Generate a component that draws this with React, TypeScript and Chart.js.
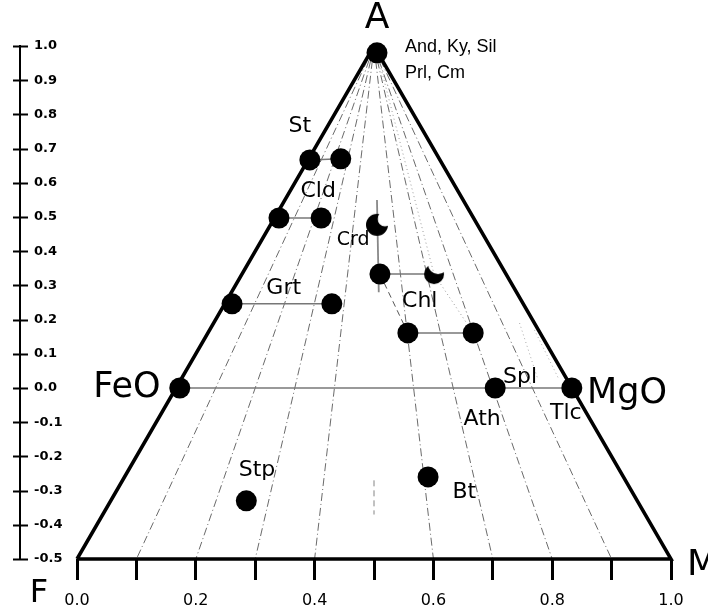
import React, { useEffect, useRef } from 'react';
import { Chart, registerables } from 'chart.js';

Chart.register(...registerables);

// ---- phase points (A-F-M projection coordinates) ----
const phaseIds = ['A', 'St1', 'St2', 'Cld1', 'Cld2', 'Grt1', 'Grt2', 'Chl1', 'Chl2', 'Chl3', 'FeO', 'Ath', 'MgO', 'Stp', 'Bt'];
const phaseX = [0.505, 0.392, 0.444, 0.34, 0.411, 0.261, 0.429, 0.51, 0.557, 0.667, 0.173, 0.704, 0.833, 0.285, 0.591];
const phaseY = [0.98, 0.667, 0.67, 0.497, 0.497, 0.246, 0.246, 0.333, 0.161, 0.161, 0.0, 0.0, 0.0, -0.33, -0.26];

// crescent-shaped phases
const crescentIds = ['Crd', 'Chl4'];
const crescentX = [0.505, 0.601];
const crescentY = [0.477, 0.333];

// tie lines between phases
const solidTies = [['St1', 'St2'], ['Cld1', 'Cld2'], ['Grt1', 'Grt2'], ['Chl1', 'Chl4'], ['Chl2', 'Chl3'], ['FeO', 'MgO']];
const dashedTies = [['Chl1', 'Chl2']];
const dottedTies = [['Chl4', 'Chl3'], ['A', 'Chl4']];

// vertical Crd line
const crdLineX = [0.505, 0.508];
const crdLineY = [0.55, 0.28];

// projection fan from apex to base ticks
const fanApexX = 0.5;
const fanApexY = 1.0;
const fanBaseX = [0.1, 0.2, 0.3, 0.4, 0.6, 0.7, 0.8, 0.9];
const fanBaseY = -0.5;
const midFragX = [0.5, 0.5];
const midFragY = [-0.27, -0.37];

// stippled dotted strokes near the Mg side
const stippleX1 = [0.745, 0.775];
const stippleY1 = [0.19, 0.03];
const stippleX2 = [0.77, 0.81];
const stippleY2 = [0.17, 0.03];

// outer triangle
const triX = [0, 1, 0.5, 0];
const triY = [-0.5, -0.5, 1.0, -0.5];

// axes
const xTickValues = [0, 0.1, 0.2, 0.3, 0.4, 0.5, 0.6, 0.7, 0.8, 0.9, 1.0];
const xTickLabels = ['0.0', '', '0.2', '', '0.4', '', '0.6', '', '0.8', '', '1.0'];

// annotations
const labelText = ['A', 'And, Ky, Sil', 'Prl, Cm', 'St', 'Cld', 'Crd', 'Grt', 'Chl', 'FeO', 'MgO', 'Spl', 'Ath', 'Tlc', 'Stp', 'Bt', 'F', 'M'];
const labelX = [0.505, 0.552, 0.552, 0.375, 0.406, 0.465, 0.348, 0.577, 0.084, 0.926, 0.746, 0.682, 0.823, 0.303, 0.652, -0.064, 1.027];
const labelY = [1.079, 0.997, 0.921, 0.766, 0.576, 0.433, 0.292, 0.254, 0.0, -0.016, 0.032, -0.091, -0.073, -0.24, -0.304, -0.602, -0.518];

const labelStyle: Record<string, { size: number; family?: string; align?: CanvasTextAlign }> = {
  'A': { size: 36 },
  'And, Ky, Sil': { size: 18, family: 'Liberation Sans', align: 'left' },
  'Prl, Cm': { size: 18, family: 'Liberation Sans', align: 'left' },
  'Crd': { size: 19 },
  'FeO': { size: 35 },
  'MgO': { size: 35 },
  'F': { size: 32 },
  'M': { size: 36, align: 'left' },
};

function pt(id: string) {
  const i = phaseIds.indexOf(id);
  if (i >= 0) return { x: phaseX[i], y: phaseY[i] };
  const j = crescentIds.indexOf(id);
  return { x: crescentX[j], y: crescentY[j] };
}

function makeCrescent(r: number, dx: number, dy: number, rc: number) {
  const size = Math.ceil(r * 2 + 4);
  const c = document.createElement('canvas');
  c.width = size;
  c.height = size;
  const ctx = c.getContext('2d')!;
  ctx.fillStyle = '#000';
  ctx.beginPath();
  ctx.arc(size / 2, size / 2, r, 0, Math.PI * 2);
  ctx.fill();
  ctx.globalCompositeOperation = 'destination-out';
  ctx.beginPath();
  ctx.arc(size / 2 + dx, size / 2 + dy, rc, 0, Math.PI * 2);
  ctx.fill();
  return c;
}

const labelPlugin = {
  id: 'afmLabels',
  afterDatasetsDraw(chart: any) {
    const { ctx, scales } = chart;
    const xs = scales.x;
    const ys = scales.y;
    ctx.save();
    ctx.fillStyle = '#000';
    ctx.textBaseline = 'middle';
    labelText.forEach((t, i) => {
      const st = labelStyle[t] || { size: 22 };
      ctx.font = `${st.size}px "${st.family || 'DejaVu Sans'}"`;
      ctx.textAlign = st.align || 'center';
      ctx.fillText(t, xs.getPixelForValue(labelX[i]), ys.getPixelForValue(labelY[i]));
    });
    ctx.restore();
  },
};

const yTickPlugin = {
  id: 'yCrossTicks',
  afterDraw(chart: any) {
    const { ctx, scales } = chart;
    const ys = scales.y;
    const ax = ys.right;
    ctx.save();
    ctx.strokeStyle = '#000';
    ctx.lineWidth = 2;
    ys.ticks.forEach((t: any) => {
      const py = Math.round(ys.getPixelForValue(t.value)) + 0.5;
      ctx.beginPath();
      ctx.moveTo(ax - 7, py);
      ctx.lineTo(ax + 8, py);
      ctx.stroke();
    });
    ctx.restore();
  },
};

function lineDs(points: { x: number; y: number }[], color: string, width: number, dash: number[] = []) {
  return {
    data: points,
    showLine: true,
    borderColor: color,
    borderWidth: width,
    borderDash: dash,
    pointRadius: 0,
    pointHoverRadius: 0,
    fill: false,
    clip: false as const,
  };
}

export default function App() {
  const ref = useRef<HTMLCanvasElement>(null);

  useEffect(() => {
    if (!ref.current) return;
    const crdShape = makeCrescent(11, 8, -6, 7.5);
    const chlShape = makeCrescent(10, 4, -10, 10);

    const datasets: any[] = [];
    datasets.push({
      data: phaseIds.map((id) => pt(id)),
      backgroundColor: '#000',
      borderColor: '#000',
      borderWidth: 0,
      pointRadius: 10.5,
      pointHoverRadius: 10.5,
      showLine: false,
      clip: false,
    });
    datasets.push({
      data: crescentIds.map((id) => pt(id)),
      pointStyle: [crdShape, chlShape],
      pointRadius: 10,
      showLine: false,
      clip: false,
    });
    datasets.push(lineDs(triX.map((x, i) => ({ x, y: triY[i] })), '#000', 3.5));
    solidTies.forEach(([a, b]) => datasets.push(lineDs([pt(a), pt(b)], '#777', 1.5)));
    dashedTies.forEach(([a, b]) => datasets.push(lineDs([pt(a), pt(b)], '#555', 1, [6, 4])));
    dottedTies.forEach(([a, b]) => datasets.push(lineDs([pt(a), pt(b)], '#999', 1, [1, 3])));
    datasets.push(lineDs(crdLineX.map((x, i) => ({ x, y: crdLineY[i] })), '#888', 1.8));
    fanBaseX.forEach((bx) =>
      datasets.push(lineDs([{ x: fanApexX, y: fanApexY }, { x: bx, y: fanBaseY }], '#444', 0.8, [8, 3, 1, 3]))
    );
    datasets.push(lineDs(midFragX.map((x, i) => ({ x, y: midFragY[i] })), '#666', 0.8, [6, 4]));
    datasets.push(lineDs(stippleX1.map((x, i) => ({ x, y: stippleY1[i] })), '#aaa', 1, [1, 3]));
    datasets.push(lineDs(stippleX2.map((x, i) => ({ x, y: stippleY2[i] })), '#aaa', 1, [1, 3]));

    const chart = new Chart(ref.current, {
      type: 'scatter',
      data: { datasets },
      options: {
        animation: false,
        responsive: false,
        maintainAspectRatio: false,
        devicePixelRatio: 1,
        events: [],
        layout: { padding: { left: 0, right: 37, top: 46, bottom: 0 } },
        plugins: { legend: { display: false }, tooltip: { enabled: false } },
        scales: {
          x: {
            type: 'linear',
            min: -0.096,
            max: 1.0,
            afterBuildTicks: (s: any) => {
              s.ticks = xTickValues.map((v) => ({ value: v }));
            },
            afterFit: (s: any) => {
              s.height = 52;
            },
            grid: { drawOnChartArea: false, drawTicks: true, tickLength: 21, color: '#000', lineWidth: 3 },
            border: { display: false },
            ticks: {
              autoSkip: false,
              maxRotation: 0,
              padding: 11,
              color: '#000',
              font: { family: 'DejaVu Sans', size: 16 },
              callback: (_v: any, i: number) => xTickLabels[i],
            },
          },
          y: {
            type: 'linear',
            min: -0.5,
            max: 1.0,
            afterFit: (s: any) => {
              s.width = 20;
            },
            grid: { display: false },
            border: { display: true, color: '#000', width: 2 },
            ticks: {
              stepSize: 0.1,
              mirror: true,
              padding: 14,
              autoSkip: false,
              color: '#000',
              font: { family: 'DejaVu Sans', size: 13, weight: 'bold' },
              callback: (v: any) => {
                const n = Number(v);
                return Math.abs(n) < 1e-9 ? '0.0' : n.toFixed(1);
              },
            },
          },
        },
      },
      plugins: [labelPlugin, yTickPlugin],
    } as any);

    return () => chart.destroy();
  }, []);

  return (
    <div style={{ position: 'absolute', left: 0, top: 0, width: 708, height: 611, background: '#fff' }}>
      <canvas ref={ref} width={708} height={611} style={{ display: 'block', width: 708, height: 611 }} />
    </div>
  );
}
